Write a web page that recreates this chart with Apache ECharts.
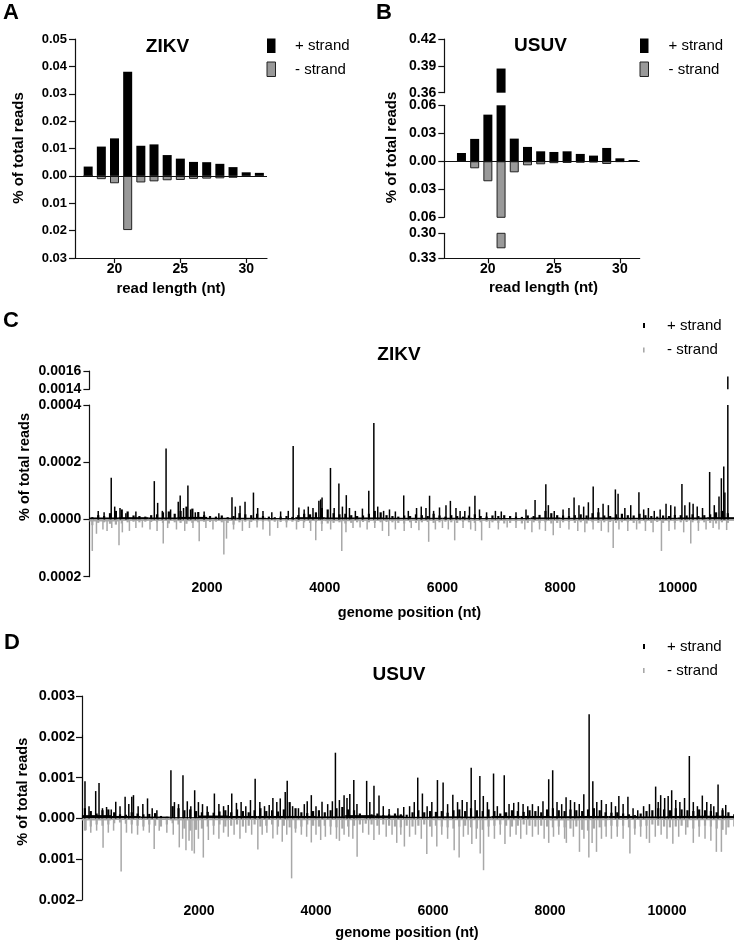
<!DOCTYPE html>
<html><head><meta charset="utf-8">
<script src="https://cdn.jsdelivr.net/npm/echarts@6.0.0/dist/echarts.min.js"></script>
<style>html,body{margin:0;padding:0;background:#fff}#c{width:734px;height:946px}</style>
</head><body><div id="c"></div>
<script>
// ---------- Panel A / B : read length distribution ----------
const readLength = [18,19,20,21,22,23,24,25,26,27,28,29,30,31];
const readLengthTicks = [20,25,30];
const zikvLenPlus  = [0.0034,0.0107,0.0137,0.0380,0.0110,0.0115,0.0076,0.0063,0.0051,0.0050,0.0044,0.0032,0.0013,0.0011];
const zikvLenMinus = [0,0.0012,0.0027,0.0198,0.0024,0.0020,0.0016,0.0015,0.0011,0.0010,0.0009,0.0007,0.0004,0.0002];
const usuvLenPlus  = [0.0089,0.0240,0.0500,0.3870,0.0243,0.0154,0.0107,0.0100,0.0107,0.0079,0.0061,0.0143,0.0032,0.0014];
const usuvLenMinus = [0,0.0075,0.0214,0.3180,0.0118,0.0043,0.0032,0.0020,0.0018,0.0015,0.0012,0.0029,0.0006,0.0003];

// ---------- Panel C / D : genome coverage (values in 1e-6 % of total reads) ----------
const UNIT = 1e-6;
const genomeTicks = [2000,4000,6000,8000,10000];
const BIN = 100;    // small-spike samples every 100 nt
const FLOOR = 500;  // continuous low coverage band, 500-nt bins
const zikvPlusFloor  = [7,8,7,9,6,6,5,8,7,7,6,6,6,5,5,7,6,7,6,6,7,8];
const zikvMinusFloor = [7,5,5,6,5,4,4,5,6,5,5,5,4,5,5,5,5,5,5,5,4,5];
const usuvPlusFloor  = [80,60,45,30,70,60,60,60,50,80,70,40,50,45,60,60,55,60,60,50,60,65,60];
const usuvMinusFloor = [50,40,40,50,45,40,40,45,40,45,40,40,45,45,45,40,50,45,40,40,45,45,40];
const zikvPlusBase = [8,15,12,22,30,35,28,14,12,10,15,
 18,25,28,20,30,45,38,26,15,12,
 10,14,8,12,22,18,15,20,12,10,
 8,10,12,9,15,20,18,25,40,35,
 22,18,20,15,12,14,20,30,25,15,
 12,10,14,12,18,15,12,20,14,10,
 15,12,10,14,18,12,10,14,12,15,
 12,10,9,14,12,16,30,22,15,14,
 12,15,18,14,22,25,14,12,18,20,
 15,14,20,15,12,10,14,12,16,15,
 14,18,12,15,18,25,30,22];
const zikvMinusBase = [20,12,10,15,18,14,10,8,10,8,9,
 10,12,14,10,12,15,12,10,8,9,
 8,10,12,18,10,8,9,10,8,7,
 8,9,10,8,9,10,12,10,15,14,
 12,10,14,12,10,9,10,12,10,9,
 10,12,14,10,12,10,9,12,10,8,
 10,12,9,10,12,10,8,10,12,14,
 12,10,14,12,10,12,10,14,12,10,
 9,12,10,14,10,12,10,9,12,10,
 10,12,14,10,12,9,12,10,12,10,
 9,10,12,10,12,14,10,12];
const zikvPlusPeaks = [[150,30],[250,25],[371,146],[430,45],[520,40],[620,22],[790,28],[1103,134],[1160,58],[1240,30],[1303,248],[1380,35],[1510,62],[1543,84],[1600,40],[1674,119],[1720,35],[1800,25],[1950,28],[2200,22],[2423,78],[2480,45],[2560,48],[2645,62],[2788,94],[2860,40],[2950,30],[3100,25],[3250,28],[3380,30],[3463,257],[3560,42],[3650,35],[3720,45],[3800,40],[3900,65],[3930,70],[3954,77],[4097,180],[4160,40],[4240,126],[4300,45],[4366,85],[4420,40],[4520,30],[4640,38],[4748,100],[4834,337],[4900,45],[5000,30],[5100,35],[5200,28],[5342,84],[5420,30],[5560,40],[5640,45],[5720,40],[5781,83],[5850,30],[5950,42],[6060,50],[6135,65],[6230,40],[6300,30],[6380,30],[6460,45],[6552,83],[6630,35],[6750,25],[6900,30],[7000,28],[7250,25],[7420,35],[7574,68],[7757,123],[7800,50],[7900,30],[8050,35],[8150,40],[8237,77],[8320,50],[8400,45],[8480,60],[8562,115],[8650,40],[8730,55],[8820,50],[8939,105],[8985,90],[9100,40],[9200,50],[9339,95],[9420,35],[9500,40],[9600,30],[9700,35],[9800,55],[9880,50],[9950,45],[10070,124],[10120,50],[10200,60],[10260,55],[10330,45],[10420,40],[10541,166],[10620,50],[10700,80],[10740,144],[10781,185],[10800,94],[10850,1540]];
const zikvMinusPeaks = [[49,110],[120,50],[230,35],[300,40],[380,30],[503,90],[560,45],[680,40],[790,30],[900,28],[1030,35],[1150,40],[1255,84],[1330,30],[1480,35],[1620,40],[1760,30],[1866,76],[1980,30],[2100,35],[2285,122],[2330,67],[2450,35],[2600,40],[2720,30],[2850,28],[2950,35],[3066,57],[3200,30],[3350,28],[3520,35],[3640,30],[3760,40],[3847,73],[3950,40],[4100,35],[4289,110],[4360,45],[4480,30],[4600,28],[4720,35],[4850,30],[4980,40],[5087,58],[5200,35],[5350,40],[5470,30],[5600,38],[5766,78],[5880,35],[6000,30],[6100,35],[6208,73],[6350,30],[6480,35],[6560,40],[6666,73],[6800,30],[6950,35],[7100,28],[7250,30],[7400,35],[7520,45],[7650,35],[7750,40],[7883,55],[8000,30],[8150,35],[8300,40],[8420,45],[8560,35],[8700,40],[8820,45],[8902,100],[9000,35],[9150,40],[9300,35],[9450,40],[9580,45],[9722,110],[9850,40],[9950,35],[10100,45],[10220,84],[10350,40],[10480,35],[10600,30],[10700,35],[10830,37]];

const usuvPlusBase = [250,180,120,200,220,150,100,90,150,120,100,
 110,130,60,40,300,250,200,220,180,150,
 160,140,170,200,150,220,180,150,200,250,
 180,200,170,220,400,250,150,130,180,200,
 150,200,250,280,220,200,120,60,100,120,
 80,100,120,100,90,150,200,150,180,160,
 180,140,200,220,180,250,200,180,220,180,
 120,150,200,180,160,200,180,150,220,250,
 200,180,220,200,180,220,250,200,150,140,
 150,120,100,80,120,180,200,250,220,200,
 250,220,200,180,220,200,180,150,200,150,100];
const usuvMinusBase = [300,200,150,180,150,120,100,130,150,180,200,
 150,180,200,150,120,150,250,300,280,250,
 200,180,150,200,180,150,200,180,150,200,
 180,150,200,180,220,250,200,150,180,200,
 180,200,220,250,200,180,150,130,150,180,
 150,180,200,220,180,200,180,150,200,180,
 200,220,250,200,180,220,250,280,200,180,
 150,180,200,180,150,180,200,180,200,220,
 200,220,250,200,280,300,250,220,200,180,
 200,180,220,250,200,180,150,180,200,220,
 200,180,220,250,200,180,200,250,280,220,200];
const usuvPlusPeaks = [[5,2050],[51,910],[120,300],[234,670],[291,870],[350,250],[420,280],[500,220],[577,410],[650,300],[737,530],[800,350],[851,530],[880,570],[960,300],[1040,350],[1120,490],[1200,250],[1280,200],[1520,1180],[1580,400],[1650,350],[1726,1060],[1800,420],[1860,300],[1926,690],[1990,400],[2060,350],[2140,300],[2263,610],[2340,350],[2420,300],[2500,330],[2560,610],[2640,380],[2720,400],[2800,300],[2880,450],[2960,970],[3040,400],[3120,300],[3200,330],[3263,500],[3330,400],[3389,490],[3474,650],[3508,920],[3600,300],[3700,250],[3800,350],[3850,420],[3920,570],[4000,300],[4103,410],[4200,350],[4280,420],[4332,1610],[4400,450],[4480,570],[4530,500],[4578,600],[4646,940],[4700,350],[4866,920],[4920,400],[4991,800],[5077,560],[5150,300],[5250,230],[5400,250],[5500,280],[5600,300],[5680,400],[5739,1000],[5819,610],[5900,300],[5980,400],[6076,940],[6173,880],[6250,350],[6339,580],[6420,400],[6500,450],[6580,400],[6653,1240],[6720,450],[6801,1040],[6860,550],[6930,400],[7035,1100],[7100,300],[7218,1060],[7300,350],[7380,380],[7460,400],[7540,350],[7620,300],[7700,350],[7800,300],[7880,420],[7978,960],[8046,1180],[8120,400],[8200,350],[8275,520],[8350,450],[8420,400],[8500,350],[8578,590],[8669,2550],[8732,910],[8800,400],[8880,450],[8960,350],[9050,400],[9120,300],[9177,550],[9250,350],[9332,530],[9420,250],[9500,200],[9600,300],[9700,350],[9806,780],[9850,400],[9892,570],[9960,500],[10020,550],[10080,690],[10150,450],[10220,400],[10300,500],[10382,1530],[10450,400],[10520,300],[10604,560],[10680,400],[10750,350],[10800,300],[10873,830],[10950,250],[11004,330]];
const usuvMinusPeaks = [[68,290],[150,350],[250,300],[360,720],[450,350],[540,300],[669,1300],[760,350],[851,370],[950,400],[1050,300],[1150,350],[1234,750],[1320,300],[1450,350],[1560,400],[1663,710],[1720,500],[1777,780],[1830,550],[1880,790],[1920,860],[1990,500],[2074,960],[2160,530],[2250,400],[2340,500],[2420,350],[2500,450],[2600,400],[2700,500],[2800,350],[2900,400],[3006,760],[3080,400],[3160,350],[3263,490],[3340,400],[3423,570],[3500,400],[3583,1470],[3650,350],[3750,400],[3840,450],[3920,590],[4000,400],[4080,530],[4160,450],[4250,400],[4350,500],[4400,550],[4480,400],[4560,450],[4630,500],[4703,940],[4800,350],[4900,400],[4990,530],[5080,400],[5200,450],[5300,400],[5380,600],[5450,400],[5511,690],[5600,450],[5700,400],[5800,500],[5894,870],[5980,450],[6065,690],[6150,400],[6250,500],[6362,780],[6447,960],[6520,450],[6600,400],[6664,630],[6740,500],[6807,860],[6864,1270],[6950,450],[7050,500],[7150,400],[7230,630],[7320,450],[7420,400],[7500,500],[7600,400],[7700,450],[7800,400],[7900,500],[7978,600],[8060,450],[8150,400],[8250,500],[8280,600],[8400,450],[8504,820],[8580,500],[8664,960],[8720,600],[8795,820],[8880,500],[8960,450],[9050,500],[9150,450],[9250,500],[9366,860],[9450,400],[9550,450],[9650,500],[9700,600],[9800,450],[9900,400],[10000,500],[10100,620],[10200,450],[10320,400],[10450,600],[10550,450],[10650,500],[10750,550],[10844,820],[10930,820],[11010,400]];

// ---------- helpers ----------
const FF = '"Liberation Sans", Arial, sans-serif';
const BLACK = '#000';
const GREY_BAR = '#999';
const GREY_LINE = '#a8a8a8';
const lenData = (vals, sign) => readLength.map((x, i) => [x, sign * vals[i]]);
const binData = (vals, step, sign) => vals.map((v, i) => [i * step + step / 2, sign * v * UNIT]);
const peakData = (arr, sign) => arr.map(([p, v]) => [p, sign * v * UNIT]);
const absFmt = d => v => Math.abs(v).toFixed(d);

const axisLineStyle = {color: '#111', width: 1.2};
function yAx(grid, min, max, interval, dec, fs, margin) {
  return {gridIndex: grid, type: 'value', min, max, interval,
    axisLine: {show: true, onZero: false, lineStyle: axisLineStyle},
    axisTick: {show: true, length: 6, lineStyle: axisLineStyle},
    splitLine: {show: false},
    axisLabel: {formatter: absFmt(dec), fontFamily: FF, fontWeight: 'bold', fontSize: fs, color: '#000', margin: margin}};
}
function xLenAx(grid, min, max, show) {
  return {gridIndex: grid, type: 'value', min, max, show,
    axisLine: {show: true, onZero: false, lineStyle: axisLineStyle},
    axisTick: {show: true, length: 5, customValues: readLengthTicks, lineStyle: axisLineStyle},
    splitLine: {show: false},
    axisLabel: {customValues: readLengthTicks, fontFamily: FF, fontWeight: 'bold', fontSize: 14, color: '#000', margin: 4}};
}
function xGenAx(grid, max, show) {
  return {gridIndex: grid, type: 'value', min: 0, max, interval: 2000, show,
    axisLine: {show: false, onZero: false}, axisTick: {show: false}, splitLine: {show: false},
    axisLabel: {customValues: genomeTicks,
      formatter: v => genomeTicks.includes(v) ? String(v) : '',
      fontFamily: FF, fontWeight: 'bold', fontSize: 14, color: '#000', margin: 4}};
}
const zeroLine = {silent: true, symbol: 'none', label: {show: false}, lineStyle: {color: '#111', width: 1.2, type: 'solid'}, data: [{yAxis: 0}]};
const barPlus = {color: BLACK};
const barMinus = {color: GREY_BAR, borderColor: '#222', borderWidth: 1};

const grids = [
  {left: 75, top: 39, width: 192, height: 219},
  {left: 444.3, top: 39, width: 195.4, height: 53.7},
  {left: 444.3, top: 105.3, width: 195.4, height: 112},
  {left: 444.3, top: 233.3, width: 195.4, height: 25},
  {left: 89.4, top: 371, width: 639.6, height: 18.3},
  {left: 89.4, top: 405, width: 639.6, height: 171.7},
  {left: 82, top: 696, width: 647, height: 204}
].map(g => Object.assign({containLabel: false, outerBoundsMode: 'none'}, g));

const ZMAX = 10870, UMAX = 11060;
const xAxes = [
  xLenAx(0, 17, 31.58, true),   // 0
  xLenAx(1, 16.7, 31.5, false), // 1
  xLenAx(2, 16.7, 31.5, false), // 2
  xLenAx(3, 16.7, 31.5, true),  // 3
  xGenAx(4, ZMAX, false),       // 4 C top
  xGenAx(5, ZMAX, true),        // 5 C peaks
  xGenAx(5, ZMAX, false),       // 6 C 100-nt spikes
  xGenAx(5, ZMAX, false),       // 7 C floor
  xGenAx(6, UMAX, true),        // 8 D peaks
  xGenAx(6, UMAX, false),       // 9 D 100-nt spikes
  xGenAx(6, UMAX, false)        // 10 D floor
];
const yAxes = [
  yAx(0, -0.03, 0.05, 0.01, 2, 13, 8),
  yAx(1, 0.36, 0.42, 0.03, 2, 14, 8),
  yAx(2, -0.06, 0.06, 0.03, 2, 14, 8),
  yAx(3, -0.33, -0.30, 0.03, 2, 14, 8),
  yAx(4, 0.0014, 0.0016, 0.0002, 4, 14, 8),
  yAx(5, -0.0002, 0.0004, 0.0002, 4, 14, 8),
  yAx(6, -0.002, 0.003, 0.001, 3, 14.5, 7)
];

function bar(xi, yi, data, width, style, extra) {
  return Object.assign({type: 'bar', xAxisIndex: xi, yAxisIndex: yi, data, barWidth: width, barGap: '-100%', itemStyle: style, clip: true, silent: true, animation: false}, extra || {});
}
const SPIKE_W = 2.2, PEAK_W = 1.5;
const series = [
  bar(0, 0, lenData(zikvLenPlus, 1), 9, barPlus, {markLine: zeroLine}),
  bar(0, 0, lenData(zikvLenMinus, -1), 9, barMinus),
  bar(1, 1, lenData(usuvLenPlus, 1), 9, barPlus),
  bar(2, 2, lenData(usuvLenPlus, 1), 9, barPlus, {markLine: zeroLine}),
  bar(2, 2, lenData(usuvLenMinus, -1), 9, barMinus),
  bar(3, 3, lenData(usuvLenMinus, -1), 9, barMinus),
  // C
  bar(4, 4, peakData(zikvPlusPeaks, 1), PEAK_W, {color: BLACK}),
  bar(7, 5, binData(zikvPlusFloor, FLOOR, 1), 29.6, {color: BLACK}),
  bar(7, 5, binData(zikvMinusFloor, FLOOR, -1), 29.6, {color: GREY_LINE}),
  bar(6, 5, binData(zikvPlusBase, BIN, 1), SPIKE_W, {color: BLACK}),
  bar(6, 5, binData(zikvMinusBase, BIN, -1), SPIKE_W, {color: GREY_LINE}),
  bar(5, 5, peakData(zikvPlusPeaks, 1), PEAK_W, {color: BLACK}),
  bar(5, 5, peakData(zikvMinusPeaks, -1), PEAK_W, {color: GREY_LINE}),
  // D
  bar(10, 6, binData(usuvPlusFloor, FLOOR, 1), 29.4, {color: BLACK}),
  bar(10, 6, binData(usuvMinusFloor, FLOOR, -1), 29.4, {color: GREY_LINE}),
  bar(9, 6, binData(usuvPlusBase, BIN, 1), SPIKE_W, {color: BLACK}),
  bar(9, 6, binData(usuvMinusBase, BIN, -1), SPIKE_W, {color: GREY_LINE}),
  bar(8, 6, peakData(usuvPlusPeaks, 1), PEAK_W, {color: BLACK}),
  bar(8, 6, peakData(usuvMinusPeaks, -1), PEAK_W, {color: GREY_LINE})
];

function txt(x, y, text, font, align, rot) {
  return {type: 'text', x, y, rotation: rot || 0, silent: true,
    style: {text, font, fill: '#000', textAlign: align || 'left', textVerticalAlign: 'middle', align: align || 'left', verticalAlign: 'middle'}};
}
function rect(x, y, w, h, fill, stroke) {
  return {type: 'rect', silent: true, shape: {x, y, width: w, height: h}, style: {fill, stroke: stroke || null, lineWidth: stroke ? 1 : 0}};
}
const fLetter = 'bold 22px ' + FF;
const fTitle = 'bold 19px ' + FF;
const fLeg = '15px ' + FF;
const fAxA = 'bold 15px ' + FF;
const fAxC = 'bold 14.5px ' + FF;
const graphics = [
  txt(3, 13, 'A', fLetter), txt(376, 12.5, 'B', fLetter), txt(3, 320.5, 'C', fLetter), txt(4, 642.5, 'D', fLetter),
  txt(167.5, 46.5, 'ZIKV', fTitle, 'center'), txt(540.5, 46, 'USUV', fTitle, 'center'),
  txt(399, 355, 'ZIKV', fTitle, 'center'), txt(399, 675, 'USUV', fTitle, 'center'),
  // legends A
  rect(267, 38.5, 8.5, 14.5, BLACK), txt(295, 46, '+ strand', fLeg),
  rect(267, 62, 8.5, 14.5, GREY_BAR, '#222'), txt(295, 70, '- strand', fLeg),
  // legends B
  rect(640, 38.5, 8.5, 14.5, BLACK), txt(668.5, 46, '+ strand', fLeg),
  rect(640, 62, 8.5, 14.5, GREY_BAR, '#222'), txt(668.5, 70, '- strand', fLeg),
  // legends C
  rect(643, 323, 2, 5, BLACK), txt(667, 325.5, '+ strand', fLeg),
  rect(643, 347.5, 1.6, 5, GREY_LINE), txt(667, 350, '- strand', fLeg),
  // legends D
  rect(643, 644, 2, 5, BLACK), txt(667, 646.5, '+ strand', fLeg),
  rect(643, 668, 1.6, 5, GREY_LINE), txt(667, 670.5, '- strand', fLeg),
  // axis titles
  txt(19, 148, '% of total reads', fAxA, 'center', Math.PI / 2),
  txt(392, 147.5, '% of total reads', fAxA, 'center', Math.PI / 2),
  txt(25, 467, '% of total reads', fAxC, 'center', Math.PI / 2),
  txt(22.5, 791.7, '% of total reads', fAxC, 'center', Math.PI / 2),
  txt(171, 288.5, 'read length (nt)', fAxA, 'center'),
  txt(543.5, 288.3, 'read length (nt)', fAxA, 'center'),
  txt(409.5, 613.3, 'genome position (nt)', fAxC, 'center'),
  txt(407, 933.3, 'genome position (nt)', fAxC, 'center')
];

const chart = echarts.init(document.getElementById('c'), null, {renderer: 'canvas'});
chart.setOption({
  animation: false,
  backgroundColor: '#fff',
  textStyle: {fontFamily: FF},
  grid: grids, xAxis: xAxes, yAxis: yAxes, series, graphic: graphics
});
</script></body></html>
